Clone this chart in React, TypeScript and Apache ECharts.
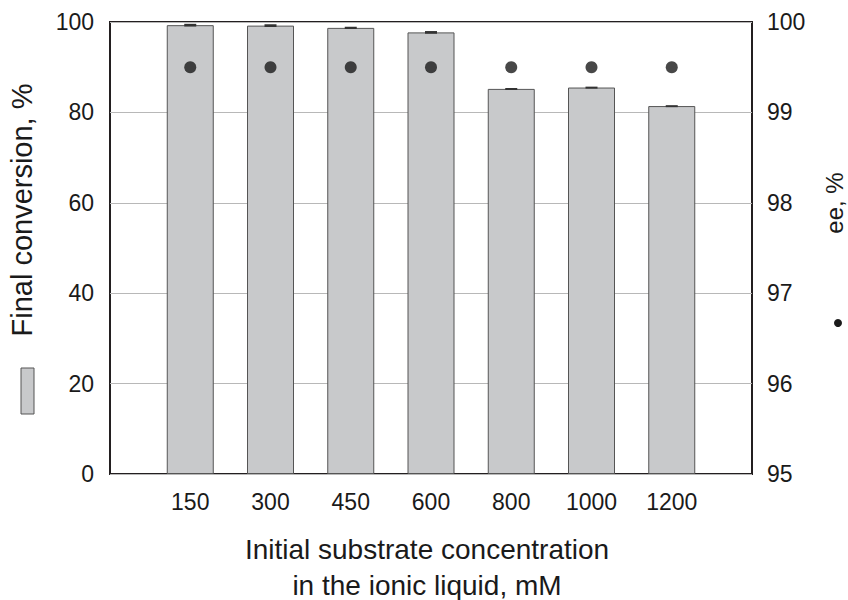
import React, { useEffect, useRef } from "react";
import * as echarts from "echarts";

const categories = ["", "150", "300", "450", "600", "800", "1000", "1200", ""];
const conversion = [null, 99.3, 99.2, 98.7, 97.7, 85.2, 85.5, 81.4, null];
const conversionErr = [null, 0.3, 0.3, 0.25, 0.3, 0.2, 0.2, 0.2, null];
const ee = [null, 99.5, 99.5, 99.5, 99.5, 99.5, 99.5, 99.5, null];
const leftTitle = "Final conversion, %";
const rightTitle = "ee, %";
const xTitle = ["Initial substrate concentration", "in the ionic liquid, mM"];

const FONT = "Liberation Sans, Arial, sans-serif";
const TXT = "#1a1a1a";

export default function App() {
  const ref = useRef<HTMLDivElement>(null);
  useEffect(() => {
    if (!ref.current) return;
    const chart = echarts.init(ref.current, null, { renderer: "svg" });
    const errData = conversion
      .map((v, i) => (v == null ? null : [i, v, conversionErr[i] as number]))
      .filter((d) => d != null);
    chart.setOption({
      animation: false,
      backgroundColor: "#ffffff",
      textStyle: { fontFamily: FONT },
      grid: {
        left: 110,
        right: 96,
        top: 22,
        bottom: 126,
        show: true,
        borderColor: "#231f20",
        borderWidth: 2,
        backgroundColor: "transparent",
      },
      xAxis: {
        type: "category",
        data: categories,
        boundaryGap: false,
        axisLine: { show: false },
        axisTick: { show: false },
        splitLine: { show: false },
        axisLabel: { fontSize: 23, color: TXT, margin: 16, fontFamily: FONT, interval: 0 },
      },
      yAxis: [
        {
          type: "value",
          min: 0,
          max: 100,
          interval: 20,
          axisLine: { show: false },
          axisTick: { show: false },
          splitLine: { show: true, lineStyle: { color: "#b8b8b8", width: 1 } },
          axisLabel: { fontSize: 23, color: TXT, margin: 16, fontFamily: FONT },
        },
        {
          type: "value",
          min: 95,
          max: 100,
          interval: 1,
          position: "right",
          axisLine: { show: false },
          axisTick: { show: false },
          splitLine: { show: false },
          axisLabel: { fontSize: 23, color: TXT, margin: 15, fontFamily: FONT },
        },
      ],
      series: [
        {
          type: "bar",
          data: conversion,
          barWidth: 47,
          itemStyle: { color: "#c8c9cb", borderColor: "#555555", borderWidth: 1 },
          z: 2,
        },
        {
          type: "custom",
          data: errData,
          z: 3,
          renderItem: (params: any, api: any) => {
            const x = api.value(0);
            const v = api.value(1);
            const e = api.value(2);
            const hi = api.coord([x, v + e]);
            const lo = api.coord([x, v - e]);
            return {
              type: "rect",
              shape: { x: hi[0] - 6, y: hi[1], width: 12, height: Math.max(lo[1] - hi[1], 2) },
              style: { fill: "#333333" },
            };
          },
        },
        {
          type: "scatter",
          yAxisIndex: 1,
          data: ee,
          symbol: "circle",
          symbolSize: 12,
          itemStyle: { color: "#1a1a1a" },
          z: 4,
        },
      ],
      graphic: [
        {
          type: "text",
          x: 22,
          y: 210,
          rotation: Math.PI / 2,
          style: {
            text: leftTitle,
            fontSize: 29,
            fontFamily: FONT,
            fill: TXT,
            align: "center",
            verticalAlign: "middle",
          },
        },
        {
          type: "rect",
          shape: { x: 21, y: 368, width: 13, height: 46 },
          style: { fill: "#c8c9cb", stroke: "#555555", lineWidth: 1 },
        },
        {
          type: "text",
          x: 834,
          y: 203,
          rotation: Math.PI / 2,
          style: {
            text: rightTitle,
            fontSize: 24,
            fontFamily: FONT,
            fill: TXT,
            align: "center",
            verticalAlign: "middle",
          },
        },
        {
          type: "circle",
          shape: { cx: 838, cy: 323, r: 4 },
          style: { fill: "#1a1a1a" },
        },
        {
          type: "text",
          x: 427,
          y: 549,
          style: {
            text: xTitle[0],
            fontSize: 28,
            fontFamily: FONT,
            fill: TXT,
            align: "center",
            verticalAlign: "middle",
          },
        },
        {
          type: "text",
          x: 427,
          y: 585,
          style: {
            text: xTitle[1],
            fontSize: 28,
            fontFamily: FONT,
            fill: TXT,
            align: "center",
            verticalAlign: "middle",
          },
        },
      ],
    });
    return () => chart.dispose();
  }, []);
  return (
    <div
      ref={ref}
      style={{ position: "absolute", left: 0, top: 0, width: 848, height: 600 }}
    />
  );
}
